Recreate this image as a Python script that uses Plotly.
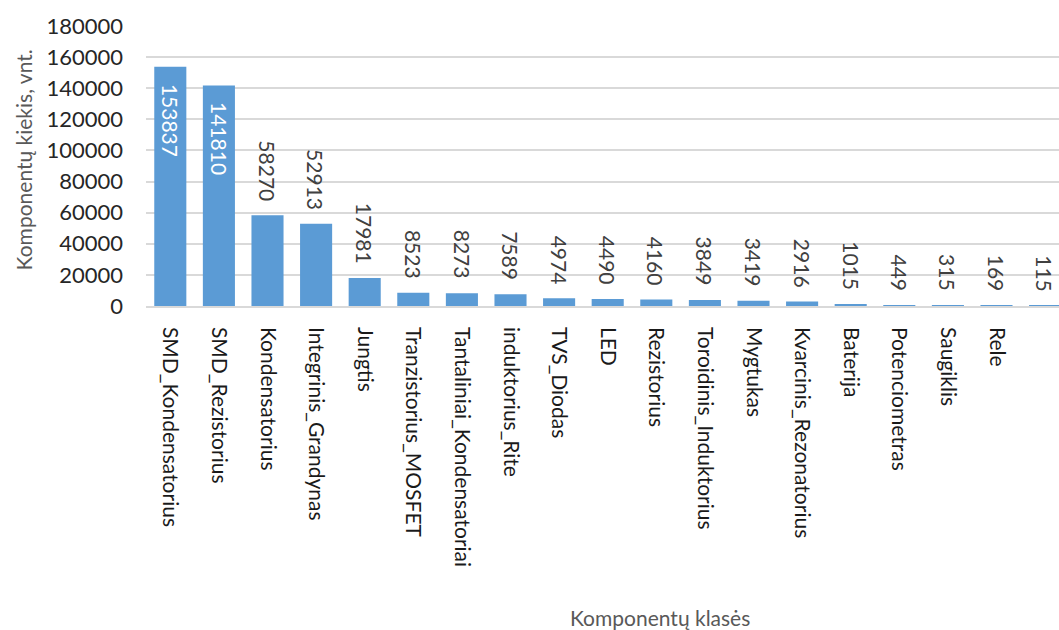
import plotly.graph_objects as go

categories = [
    "SMD_Kondensatorius", "SMD_Rezistorius", "Kondensatorius", "Integrinis_Grandynas",
    "Jungtis", "Tranzistorius_MOSFET", "Tantaliniai_Kondensatoriai", "induktorius_Rite",
    "TVS_Diodas", "LED", "Rezistorius", "Toroidinis_Induktorius", "Mygtukas",
    "Kvarcinis_Rezonatorius", "Baterija", "Potenciometras", "Saugiklis", "Rele",
    "LCD_Ekranas",
]
counts = [153837, 141810, 58270, 52913, 17981, 8523, 8273, 7589, 4974, 4490,
          4160, 3849, 3419, 2916, 1015, 449, 315, 169, 115]

y_title = "Komponentų kiekis, vnt."
x_title = "Komponentų klasės"

FONT = "Lato"
SIZE = 21
W, H = 1059, 630
left, top, bottom = 146, 26, 324
cat_w = 48.6
span = (W - left) / cat_w

fig = go.Figure(
    go.Bar(
        x=list(range(len(categories))),
        y=counts,
        marker=dict(color="#5B9BD5", line=dict(width=0)),
        width=0.66,
        hoverinfo="x+y",
    )
)

# value labels: big bars get a white label inside their top end,
# the others a dark label standing above the bar
annotations = []
for i, v in enumerate(counts):
    inside = v > 100000
    annotations.append(
        dict(
            x=i, y=v, xref="x", yref="y",
            text=str(v), textangle=90, showarrow=False,
            xanchor="center",
            yanchor="top" if inside else "bottom",
            yshift=-15 if inside else 12,
            font=dict(family=FONT, size=SIZE, color="white" if inside else "#404040"),
        )
    )

annotations += [
    dict(
        text=y_title, xref="paper", yref="paper",
        x=-(left - 23) / (W - left), y=0.52,
        xanchor="center", yanchor="middle", textangle=-90, showarrow=False,
        font=dict(family=FONT, size=SIZE, color="#595959"),
    ),
    dict(
        text=x_title, xref="paper", yref="paper",
        x=(660 - left) / (W - left), y=-(617 - (H - bottom)) / (H - top - bottom),
        xanchor="center", yanchor="middle", showarrow=False,
        font=dict(family=FONT, size=SIZE, color="#595959"),
    ),
]

fig.update_layout(
    width=W,
    height=H,
    margin=dict(l=left, r=0, t=top, b=bottom),
    paper_bgcolor="white",
    plot_bgcolor="white",
    showlegend=False,
    font=dict(family=FONT, color="#404040"),
    xaxis=dict(
        range=[-0.5, -0.5 + span],
        tickmode="array",
        tickvals=list(range(len(categories))),
        ticktext=categories,
        tickangle=90,
        tickfont=dict(family=FONT, size=SIZE, color="#1a1a1a"),
        showgrid=False,
        showline=True,
        linecolor="#d9d9d9",
        linewidth=1.5,
        ticks="",
        ticklabelstandoff=15,
        zeroline=False,
    ),
    yaxis=dict(
        range=[0, 180000],
        tickmode="linear",
        tick0=0,
        dtick=20000,
        tickformat="d",
        tickfont=dict(family=FONT, size=22, color="#262626"),
        showgrid=True,
        gridcolor="#d9d9d9",
        gridwidth=1.5,
        zeroline=False,
        showline=False,
        ticks="",
        ticklabelstandoff=22,
    ),
    annotations=annotations,
)

fig.write_html("out.html")
